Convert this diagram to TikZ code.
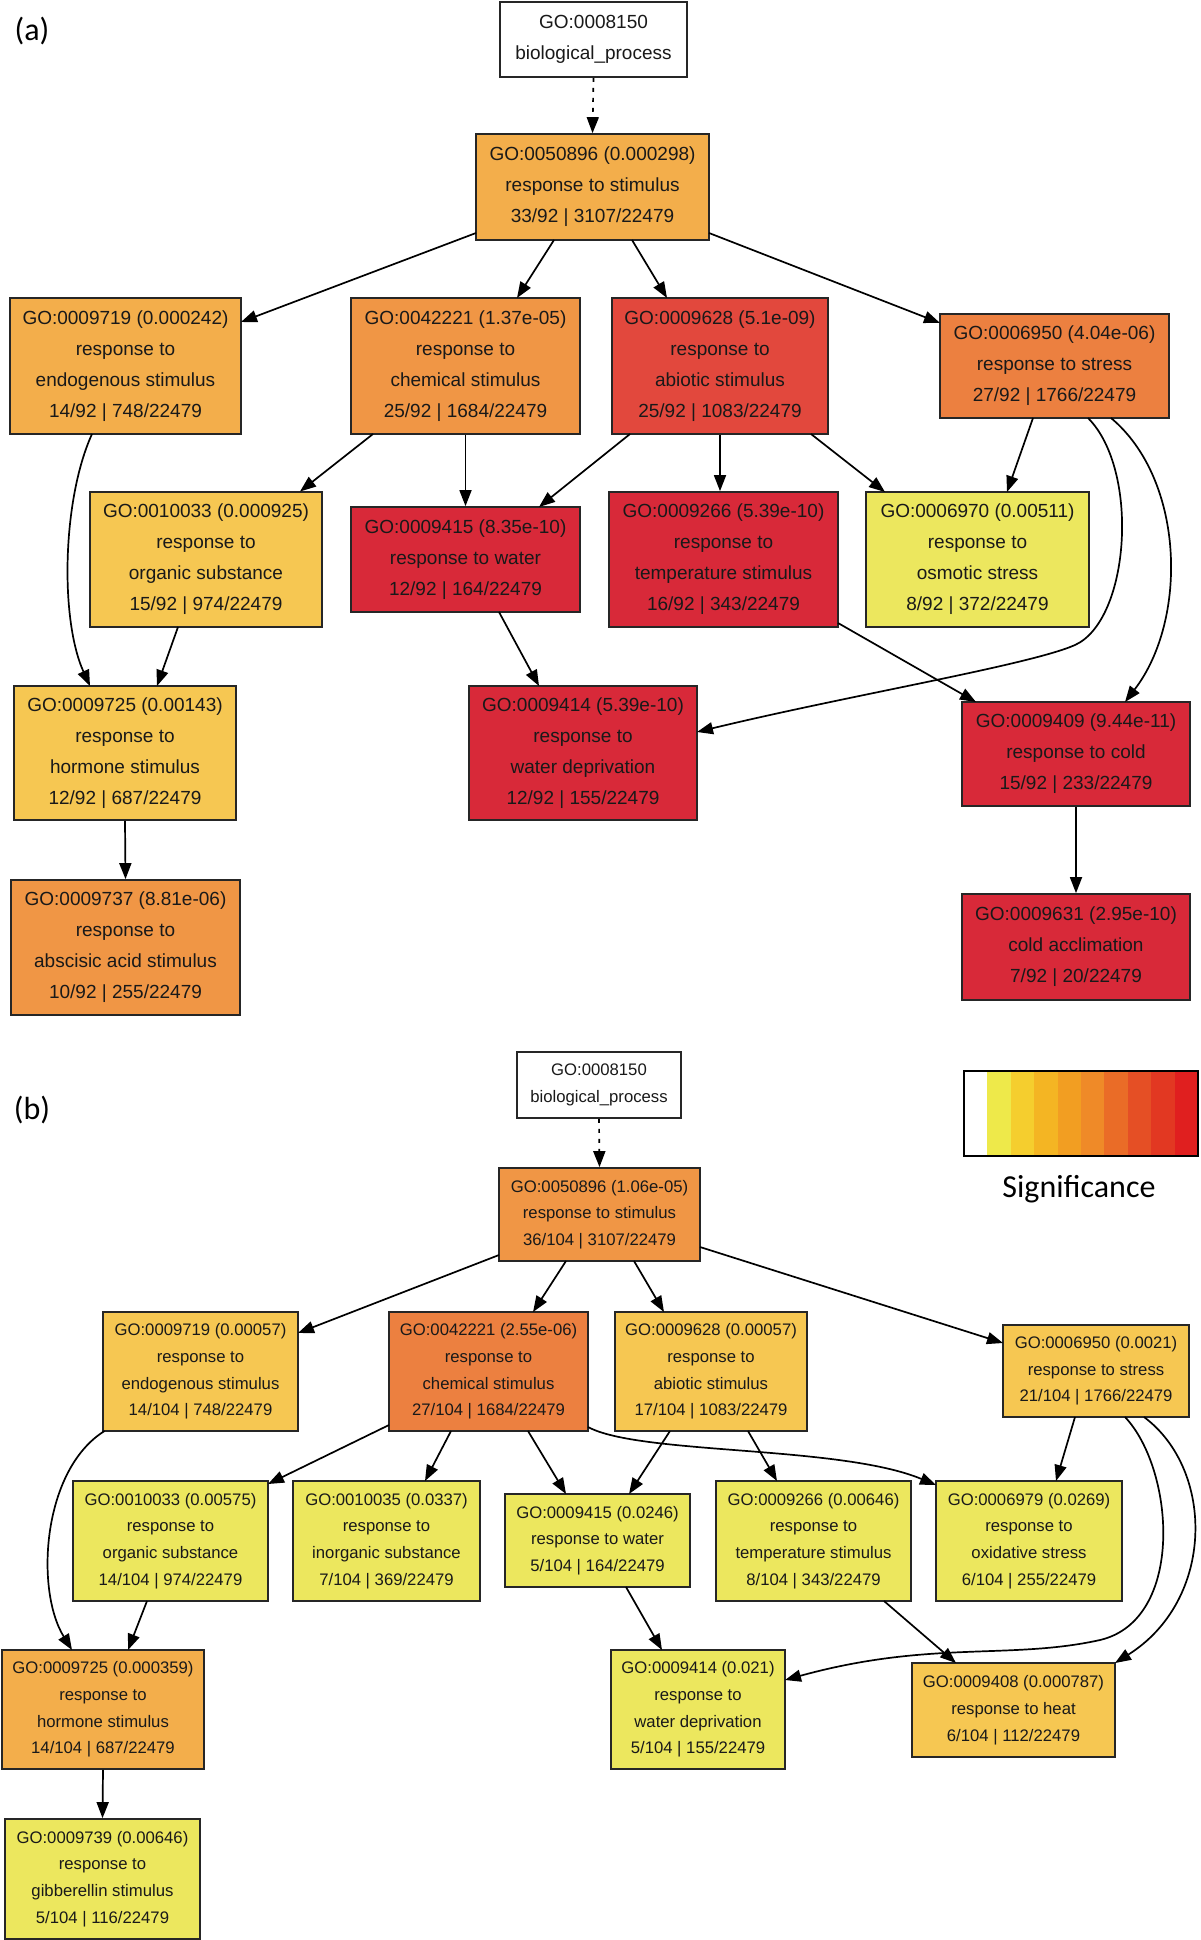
\documentclass[tikz,border=0pt]{standalone}
\usepackage{fontspec}
\setmainfont{Liberation Sans}
\newfontfamily\calib{Carlito}
\usetikzlibrary{arrows.meta}
\definecolor{cY}{HTML}{ECE75E}
\definecolor{cYO}{HTML}{F6C752}
\definecolor{cLO}{HTML}{F3AE4B}
\definecolor{cO}{HTML}{F09645}
\definecolor{cDO}{HTML}{EC8040}
\definecolor{cRO}{HTML}{E2483D}
\definecolor{cR}{HTML}{D82939}
\definecolor{sb1}{HTML}{EEE94A}
\definecolor{sb2}{HTML}{F5CE2E}
\definecolor{sb3}{HTML}{F4B523}
\definecolor{sb4}{HTML}{F29E22}
\definecolor{sb5}{HTML}{EF8A28}
\definecolor{sb6}{HTML}{EA6C27}
\definecolor{sb7}{HTML}{E54F25}
\definecolor{sb8}{HTML}{E23822}
\definecolor{sb9}{HTML}{E01F1F}
\tikzset{
  gobox/.style={draw=black!85, line width=1.7pt, inner sep=0pt, align=center, text=black!90},
  ga/.style={gobox, font=\fontsize{19}{31}\selectfont},
  gb/.style={gobox, font=\fontsize{16.7}{26.7}\selectfont},
  edge/.style={line width=1.7pt, -{Triangle[length=16pt,width=12pt]}},
  rootedge/.style={edge, dash pattern=on 4pt off 6pt},
  panellabel/.style={font=\calib\fontsize{32}{36}\selectfont, inner sep=0pt},
}
\begin{document}
\begin{tikzpicture}[x=1pt,y=-1pt]
\useasboundingbox (0,0) rectangle (1200,1940);
\fill[white] (0,0) rectangle (1200,1940);

% ---------- panel (a) ----------
\node[panellabel] (lbla) at (32,31) {(a)};
\node[ga, fill=white, minimum width=187pt, minimum height=75pt] (roota) at (593.5,39.5) {GO:0008150\\biological\_process};
\node[ga, fill=cLO, minimum width=233pt, minimum height=106pt] (rsa) at (592.5,187) {GO:0050896 (0.000298)\\response to stimulus\\33/92 | 3107/22479};
\node[ga, fill=cLO, minimum width=231pt, minimum height=136pt] (a9719) at (125.5,366) {GO:0009719 (0.000242)\\response to\\endogenous stimulus\\14/92 | 748/22479};
\node[ga, fill=cO, minimum width=229pt, minimum height=136pt] (a42221) at (465.5,366) {GO:0042221 (1.37e-05)\\response to\\chemical stimulus\\25/92 | 1684/22479};
\node[ga, fill=cRO, minimum width=216pt, minimum height=136pt] (a9628) at (720,366) {GO:0009628 (5.1e-09)\\response to\\abiotic stimulus\\25/92 | 1083/22479};
\node[ga, fill=cDO, minimum width=229pt, minimum height=104pt] (a6950) at (1054.5,366) {GO:0006950 (4.04e-06)\\response to stress\\27/92 | 1766/22479};
\node[ga, fill=cYO, minimum width=232pt, minimum height=135pt] (a10033) at (206,559.5) {GO:0010033 (0.000925)\\response to\\organic substance\\15/92 | 974/22479};
\node[ga, fill=cR, minimum width=229pt, minimum height=105pt] (a9415) at (465.5,559.5) {GO:0009415 (8.35e-10)\\response to water\\12/92 | 164/22479};
\node[ga, fill=cR, minimum width=229pt, minimum height=135pt] (a9266) at (723.5,559.5) {GO:0009266 (5.39e-10)\\response to\\temperature stimulus\\16/92 | 343/22479};
\node[ga, fill=cY, minimum width=223pt, minimum height=135pt] (a6970) at (977.5,559.5) {GO:0006970 (0.00511)\\response to\\osmotic stress\\8/92 | 372/22479};
\node[ga, fill=cYO, minimum width=222pt, minimum height=134pt] (a9725) at (125,753) {GO:0009725 (0.00143)\\response to\\hormone stimulus\\12/92 | 687/22479};
\node[ga, fill=cR, minimum width=228pt, minimum height=134pt] (a9414) at (583,753) {GO:0009414 (5.39e-10)\\response to\\water deprivation\\12/92 | 155/22479};
\node[ga, fill=cR, minimum width=228pt, minimum height=104pt] (a9409) at (1076,754) {GO:0009409 (9.44e-11)\\response to cold\\15/92 | 233/22479};
\node[ga, fill=cO, minimum width=229pt, minimum height=135pt] (a9737) at (125.5,947.5) {GO:0009737 (8.81e-06)\\response to\\abscisic acid stimulus\\10/92 | 255/22479};
\node[ga, fill=cR, minimum width=228pt, minimum height=106pt] (a9631) at (1076,947) {GO:0009631 (2.95e-10)\\cold acclimation\\7/92 | 20/22479};

\draw[rootedge] (roota.south) -- (rsa.north);
\draw[edge] ([shift={(-116.5,46)}]rsa.center) -- ([shift={(115.5,-44)}]a9719.center);
\draw[edge] ([shift={(-38.5,53)}]rsa.center) -- ([shift={(51.5,-68)}]a42221.center);
\draw[edge] ([shift={(39.5,53)}]rsa.center) -- ([shift={(-53,-68)}]a9628.center);
\draw[edge] ([shift={(116.5,46)}]rsa.center) -- ([shift={(-114.5,-43)}]a6950.center);
\draw[edge] ([shift={(-33.5,68)}]a9719.center) .. controls (62,500) and (60,620) .. ([shift={(-35,-67)}]a9725.center);
\draw[edge] ([shift={(-92.5,68)}]a42221.center) -- ([shift={(94,-68)}]a10033.center);
\draw[edge] (a42221.south) -- (a9415.north);
\draw[edge] ([shift={(-90,68)}]a9628.center) -- ([shift={(73.5,-52.5)}]a9415.center);
\draw[edge] (a9628.south) -- (a9628.south |- a9266.north);
\draw[edge] ([shift={(91,68)}]a9628.center) -- ([shift={(-92.5,-67.5)}]a6970.center);
\draw[edge] ([shift={(-21.5,52)}]a6950.center) -- ([shift={(29.5,-67.5)}]a6970.center);
\draw[edge] ([shift={(33.5,52)}]a6950.center) .. controls (1140,470) and (1130,620) .. (1075,645) .. controls (1030,665) and (850,695) .. ([shift={(114,-21)}]a9414.center);
\draw[edge] ([shift={(56.5,52)}]a6950.center) .. controls (1185,480) and (1188,620) .. ([shift={(49,-52)}]a9409.center);
\draw[edge] ([shift={(114.5,63.5)}]a9266.center) -- ([shift={(-100,-52)}]a9409.center);
\draw[edge] ([shift={(33.5,52.5)}]a9415.center) -- ([shift={(-44,-67)}]a9414.center);
\draw[edge] ([shift={(-28,67.5)}]a10033.center) -- ([shift={(32,-67)}]a9725.center);
\draw[edge] (a9725.south) -- (a9737.north);
\draw[edge] (a9409.south) -- (a9631.north);

% ---------- panel (b) ----------
\node[panellabel] (lblb) at (32,1110) {(b)};
\foreach \c [count=\i from 0] in {white,sb1,sb2,sb3,sb4,sb5,sb6,sb7,sb8,sb9}
  \fill[\c] (964+\i*23.4,1071) rectangle ++(23.4,85);
\draw[line width=2pt] (964,1071) rectangle (1198,1156);
\node[panellabel] (sig) at (1079,1189) {Significance};

\node[gb, fill=white, minimum width=164pt, minimum height=66pt] (rootb) at (599,1085) {GO:0008150\\biological\_process};
\node[gb, fill=cO, minimum width=201pt, minimum height=93pt] (rsb) at (599.5,1214.5) {GO:0050896 (1.06e-05)\\response to stimulus\\36/104 | 3107/22479};
\node[gb, fill=cYO, minimum width=195pt, minimum height=119pt] (b9719) at (200.5,1371.5) {GO:0009719 (0.00057)\\response to\\endogenous stimulus\\14/104 | 748/22479};
\node[gb, fill=cDO, minimum width=199pt, minimum height=119pt] (b42221) at (488.5,1371.5) {GO:0042221 (2.55e-06)\\response to\\chemical stimulus\\27/104 | 1684/22479};
\node[gb, fill=cYO, minimum width=192pt, minimum height=119pt] (b9628) at (711,1371.5) {GO:0009628 (0.00057)\\response to\\abiotic stimulus\\17/104 | 1083/22479};
\node[gb, fill=cYO, minimum width=186pt, minimum height=92pt] (b6950) at (1096,1371) {GO:0006950 (0.0021)\\response to stress\\21/104 | 1766/22479};
\node[gb, fill=cY, minimum width=195pt, minimum height=120pt] (b10033) at (170.5,1541) {GO:0010033 (0.00575)\\response to\\organic substance\\14/104 | 974/22479};
\node[gb, fill=cY, minimum width=187pt, minimum height=120pt] (b10035) at (386.5,1541) {GO:0010035 (0.0337)\\response to\\inorganic substance\\7/104 | 369/22479};
\node[gb, fill=cY, minimum width=185pt, minimum height=93pt] (b9415) at (597.5,1540.5) {GO:0009415 (0.0246)\\response to water\\5/104 | 164/22479};
\node[gb, fill=cY, minimum width=195pt, minimum height=120pt] (b9266) at (813.5,1541) {GO:0009266 (0.00646)\\response to\\temperature stimulus\\8/104 | 343/22479};
\node[gb, fill=cY, minimum width=186pt, minimum height=120pt] (b6979) at (1029,1541) {GO:0006979 (0.0269)\\response to\\oxidative stress\\6/104 | 255/22479};
\node[gb, fill=cLO, minimum width=202pt, minimum height=119pt] (b9725) at (103,1709.5) {GO:0009725 (0.000359)\\response to\\hormone stimulus\\14/104 | 687/22479};
\node[gb, fill=cY, minimum width=174pt, minimum height=119pt] (b9414) at (698,1709.5) {GO:0009414 (0.021)\\response to\\water deprivation\\5/104 | 155/22479};
\node[gb, fill=cYO, minimum width=203pt, minimum height=94pt] (b9408) at (1013.5,1710) {GO:0009408 (0.000787)\\response to heat\\6/104 | 112/22479};
\node[gb, fill=cY, minimum width=195pt, minimum height=120pt] (b9739) at (102.5,1879) {GO:0009739 (0.00646)\\response to\\gibberellin stimulus\\5/104 | 116/22479};

\draw[rootedge] (rootb.south) -- (rsb.north);
\draw[edge] ([shift={(-100.5,40.5)}]rsb.center) -- ([shift={(97.5,-38.5)}]b9719.center);
\draw[edge] ([shift={(-33.5,46.5)}]rsb.center) -- ([shift={(44.5,-59.5)}]b42221.center);
\draw[edge] ([shift={(34.5,46.5)}]rsb.center) -- ([shift={(-47,-59.5)}]b9628.center);
\draw[edge] ([shift={(100.5,32.5)}]rsb.center) -- ([shift={(-93,-28)}]b6950.center);
\draw[edge] ([shift={(-96,59.5)}]b9719.center) .. controls (42,1470) and (35,1590) .. ([shift={(-31,-59.5)}]b9725.center);
\draw[edge] ([shift={(-99.5,53.5)}]b42221.center) -- ([shift={(97.5,-57)}]b10033.center);
\draw[edge] ([shift={(-37.5,59.5)}]b42221.center) -- ([shift={(38.5,-60)}]b10035.center);
\draw[edge] ([shift={(39.5,59.5)}]b42221.center) -- ([shift={(-31.5,-46.5)}]b9415.center);
\draw[edge] ([shift={(99.5,55.5)}]b42221.center) .. controls (640,1455) and (840,1445) .. ([shift={(-93,-56)}]b6979.center);
\draw[edge] ([shift={(-41,59.5)}]b9628.center) -- ([shift={(31.5,-46.5)}]b9415.center);
\draw[edge] ([shift={(37,59.5)}]b9628.center) -- ([shift={(-36.5,-60)}]b9266.center);
\draw[edge] ([shift={(-21,46)}]b6950.center) -- ([shift={(27,-60)}]b6979.center);
\draw[edge] ([shift={(29,46)}]b6950.center) .. controls (1175,1470) and (1185,1620) .. (1100,1640) .. controls (1010,1660) and (930,1640) .. ([shift={(87,-29.5)}]b9414.center);
\draw[edge] ([shift={(48,46)}]b6950.center) .. controls (1215,1470) and (1215,1600) .. ([shift={(101.5,-47)}]b9408.center);
\draw[edge] ([shift={(70.5,60)}]b9266.center) -- ([shift={(-57.5,-47)}]b9408.center);
\draw[edge] ([shift={(28.5,46.5)}]b9415.center) -- ([shift={(-36,-59.5)}]b9414.center);
\draw[edge] ([shift={(-23.5,60)}]b10033.center) -- ([shift={(25,-59.5)}]b9725.center);
\draw[edge] (b9725.south) -- (b9739.north);
\end{tikzpicture}
\end{document}
